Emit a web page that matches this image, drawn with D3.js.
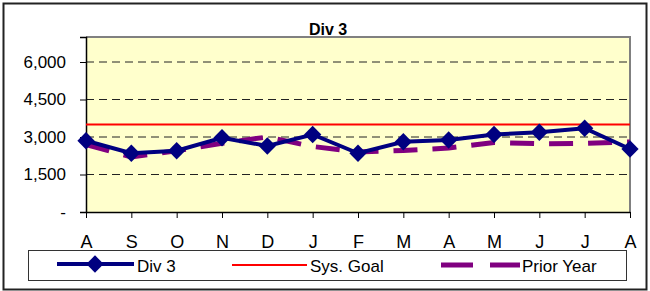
<!DOCTYPE html>
<html>
<head>
<meta charset="utf-8">
<script src="https://cdn.jsdelivr.net/npm/d3@7"></script>
<style>
  body { margin: 0; background: #fff; }
  text { font-family: "Liberation Sans", Arial, sans-serif; fill: #000; }
</style>
</head>
<body>
<div id="chart"></div>
<script>
// data
var months = ["A", "S", "O", "N", "D", "J", "F", "M", "A", "M", "J", "J", "A"];
var div3 = [2850, 2350, 2450, 2970, 2640, 3100, 2350, 2810, 2880, 3100, 3190, 3350, 2520];
var priorYear = [2700, 2200, 2450, 2750, 3000, 2620, 2400, 2460, 2560, 2780, 2730, 2750, 2800];
var sysGoal = [3500, 3500, 3500, 3500, 3500, 3500, 3500, 3500, 3500, 3500, 3500, 3500, 3500];
var yTicks = [0, 1500, 3000, 4500, 6000];

var width = 650;
var height = 291;
var margin = { top: 37, right: 20, bottom: 79, left: 86 };
var plotW = width - margin.left - margin.right;
var plotH = height - margin.top - margin.bottom;

var svg = d3.select("#chart")
  .append("svg")
  .attr("width", width)
  .attr("height", height);

// outer frame
svg.append("rect")
  .attr("x", 3.5).attr("y", 3.5)
  .attr("width", 643).attr("height", 286)
  .attr("fill", "#fff")
  .attr("stroke", "#222")
  .attr("stroke-width", 2);

// title
svg.append("text")
  .attr("x", 328)
  .attr("y", 35)
  .attr("text-anchor", "middle")
  .style("font-size", "16px")
  .style("font-weight", "bold")
  .text("Div 3");

var g = svg.append("g")
  .attr("transform", "translate(" + margin.left + "," + margin.top + ")");

var x = d3.scalePoint()
  .domain(d3.range(months.length))
  .range([0, plotW]);

var y = d3.scaleLinear()
  .domain([0, 7000])
  .range([plotH, 0]);

// plot background
g.append("rect")
  .attr("width", plotW)
  .attr("height", plotH)
  .attr("fill", "#FFFFCC");

// horizontal gridlines
g.selectAll(".grid")
  .data(yTicks.filter(function (d) { return d > 0; }))
  .enter()
  .append("line")
  .attr("class", "grid")
  .attr("x1", 0)
  .attr("x2", plotW)
  .attr("y1", function (d) { return y(d); })
  .attr("y2", function (d) { return y(d); })
  .attr("stroke", "#222")
  .attr("stroke-width", 1)
  .attr("stroke-dasharray", "8,5");

// plot border top/right (gray)
g.append("path")
  .attr("d", "M0,0H" + plotW + "V" + plotH)
  .attr("fill", "none")
  .attr("stroke", "#808080")
  .attr("stroke-width", 2);

// y axis
var yAxis = g.append("g")
  .call(d3.axisLeft(y)
    .tickValues(yTicks)
    .tickSize(6)
    .tickPadding(14)
    .tickFormat(function (d) { return d === 0 ? "-" : d3.format(",")(d); }));
yAxis.select(".domain").attr("stroke", "#000").attr("stroke-width", 1.5);
yAxis.selectAll(".tick line").attr("stroke", "#000");
yAxis.selectAll("text")
  .style("font-size", "17px")
  .style("font-family", "Liberation Sans, Arial, sans-serif");

// x axis
var xAxis = g.append("g")
  .attr("transform", "translate(0," + plotH + ")")
  .call(d3.axisBottom(x)
    .tickSize(6)
    .tickSizeOuter(0)
    .tickPadding(17)
    .tickFormat(function (i) { return months[i]; }));
xAxis.select(".domain").attr("stroke", "#000").attr("stroke-width", 1.5);
xAxis.selectAll(".tick line").attr("stroke", "#000");
xAxis.selectAll("text")
  .style("font-size", "18px")
  .style("font-family", "Liberation Sans, Arial, sans-serif");

var line = d3.line()
  .x(function (d, i) { return x(i); })
  .y(function (d) { return y(d); });

// system goal
g.append("path")
  .datum(sysGoal)
  .attr("d", line)
  .attr("fill", "none")
  .attr("stroke", "#FF0000")
  .attr("stroke-width", 2);

// prior year
g.append("path")
  .datum(priorYear)
  .attr("d", line)
  .attr("fill", "none")
  .attr("stroke", "#800080")
  .attr("stroke-width", 5)
  .attr("stroke-dasharray", "24,15");

// div 3
g.append("path")
  .datum(div3)
  .attr("d", line)
  .attr("fill", "none")
  .attr("stroke", "#000080")
  .attr("stroke-width", 4);

var diamond = d3.symbol().type(d3.symbolDiamond2).size(190);

g.selectAll(".pt")
  .data(div3)
  .enter()
  .append("path")
  .attr("class", "pt")
  .attr("transform", function (d, i) { return "translate(" + x(i) + "," + y(d) + ")"; })
  .attr("d", diamond)
  .attr("fill", "#000080");

// legend
var legend = svg.append("g");
legend.append("rect")
  .attr("x", 28.5).attr("y", 250.5)
  .attr("width", 598).attr("height", 30)
  .attr("fill", "#fff")
  .attr("stroke", "#333")
  .attr("stroke-width", 1);

var ly = 264;
legend.append("line")
  .attr("x1", 57).attr("x2", 134).attr("y1", ly).attr("y2", ly)
  .attr("stroke", "#000080").attr("stroke-width", 4);
legend.append("path")
  .attr("transform", "translate(95," + ly + ")")
  .attr("d", diamond)
  .attr("fill", "#000080");
legend.append("text")
  .attr("x", 137).attr("y", 272)
  .style("font-size", "17px")
  .text("Div 3");

legend.append("line")
  .attr("x1", 232).attr("x2", 307).attr("y1", ly + 1).attr("y2", ly + 1)
  .attr("stroke", "#FF0000").attr("stroke-width", 2);
legend.append("text")
  .attr("x", 310).attr("y", 272)
  .style("font-size", "17px")
  .text("Sys. Goal");

legend.append("line")
  .attr("x1", 441).attr("x2", 520).attr("y1", ly + 1).attr("y2", ly + 1)
  .attr("stroke", "#800080").attr("stroke-width", 5)
  .attr("stroke-dasharray", "32,17");
legend.append("text")
  .attr("x", 522).attr("y", 272)
  .style("font-size", "17px")
  .text("Prior Year");
</script>
</body>
</html>
